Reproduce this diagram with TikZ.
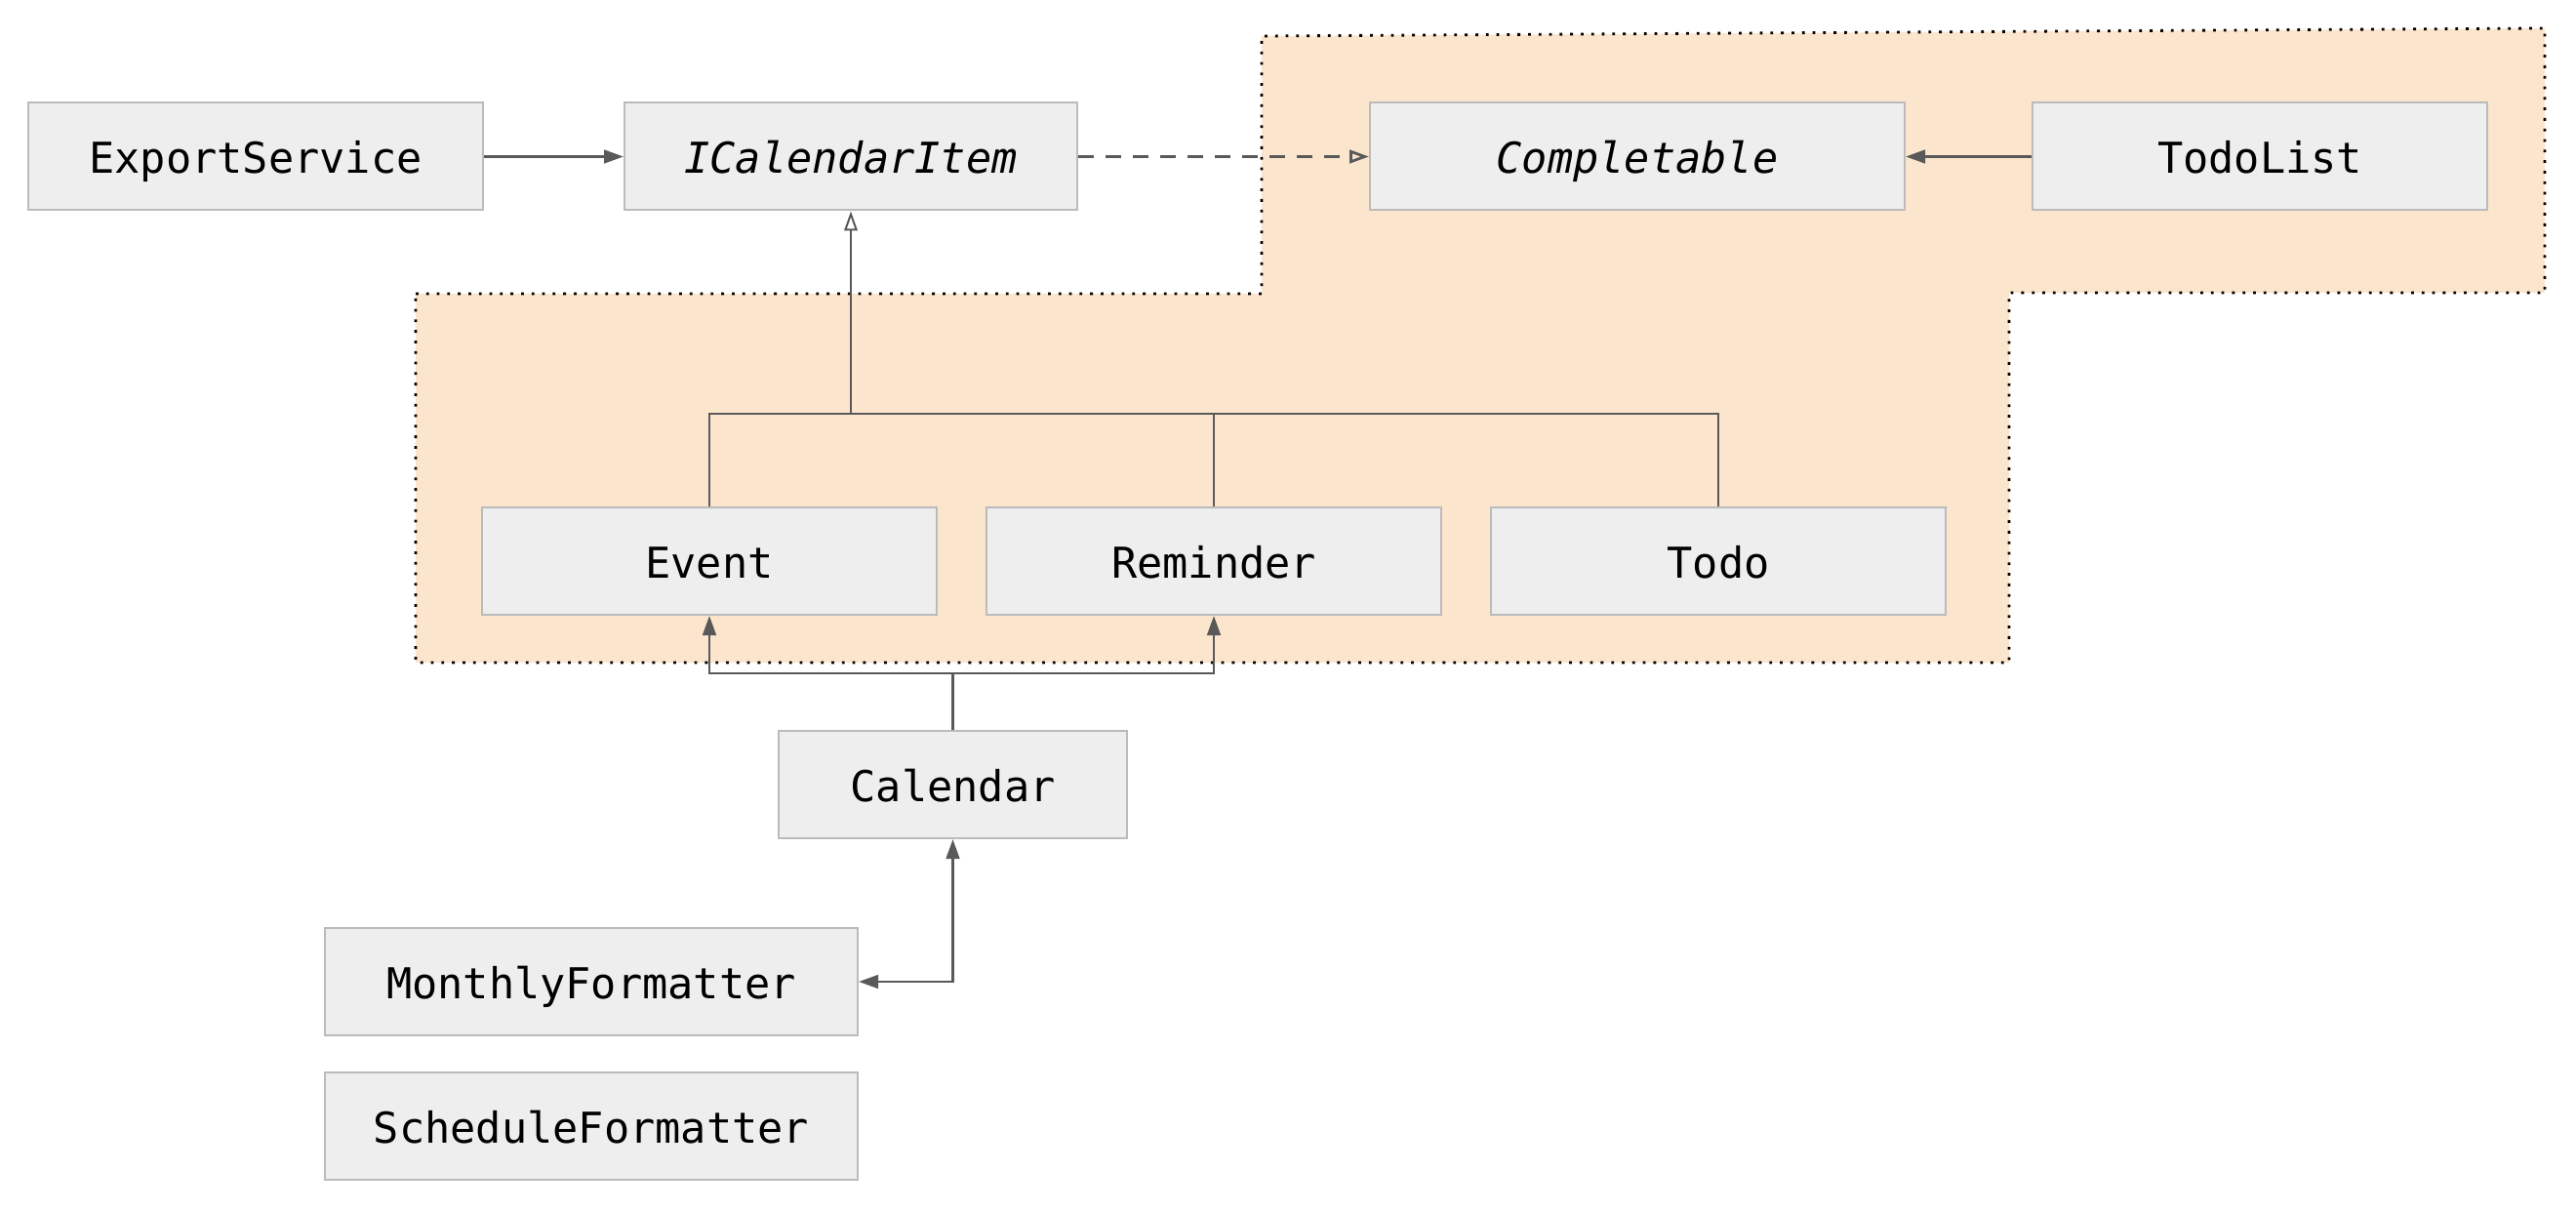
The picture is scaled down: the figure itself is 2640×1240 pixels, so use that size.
\documentclass[tikz,border=0pt]{standalone}
\usepackage{fontspec}
\setmonofont{DejaVu Sans Mono}
\usetikzlibrary{arrows.meta,positioning}
\definecolor{boxfill}{HTML}{EEEEEE}
\definecolor{boxline}{HTML}{BBBBBB}
\definecolor{wire}{HTML}{595959}
\definecolor{zone}{HTML}{FCE5CD}
\begin{document}
\begin{tikzpicture}[x=0.25pt,y=-0.25pt,
  cls/.style={draw=boxline,line width=0.5pt,fill=boxfill,minimum height=27.5pt,inner sep=0pt,
    text height=9pt,text depth=0.4pt,font=\ttfamily\fontsize{10.9}{12}\selectfont},
  iface/.style={cls,font=\ttfamily\itshape\fontsize{10.9}{12}\selectfont},
  line/.style={draw=wire,line width=0.5pt},
  assoc/.style={line,line width=0.7pt,-{Triangle[length=5pt,width=3.4pt]}},
  inherit/.style={line,-{Triangle[open,length=5pt,width=3.4pt]}},
  realize/.style={line,line width=0.7pt,dash pattern=on 4pt off 3pt,-{Triangle[open,length=5pt,width=3.4pt]}}]
\useasboundingbox (0,0) rectangle (2640,1240);

% shaded group with dotted outline
\draw[fill=zone,line width=0.7pt,dash pattern=on 0.7pt off 2pt]
  (426,301) -- (1293,301) -- (1293,37) -- (2608,29) -- (2608,300) -- (2059,300) -- (2059,679) -- (426,679) -- cycle;

% top row
\node[cls,minimum width=116.5pt] (export) at (262,160.5) {ExportService};
\node[iface,minimum width=116pt] (icalitem) at (872,160.5) {ICalendarItem};
\node[iface,minimum width=137pt] (completable) at (1678,160.5) {Completable};
\node[cls,minimum width=116.5pt] (todolist) at (2316,160.5) {TodoList};

% items
\foreach \name/\txt [count=\n] in {event/Event,reminder/Reminder,todo/Todo}
  \node[cls,minimum width=116.5pt] (\name) at (210+\n*517,575) {\txt};

\node[cls,minimum width=89.25pt] (calendar) at (976.5,804) {Calendar};
\node[cls,minimum width=136.5pt] (monthly) at (606,1006) {MonthlyFormatter};
\node[cls,minimum width=136.5pt] (schedule) at (606,1154) {ScheduleFormatter};

\coordinate (hub) at (872,424);
\coordinate (split) at (976.5,690);

\draw[assoc] (export) -- (icalitem);
\draw[realize] (icalitem) -- (completable);
\draw[assoc] (todolist) -- (completable);

\draw[line] (event.north) |- (hub);
\draw[line] (todo.north) |- (hub);
\draw[line] (reminder.north) -- (reminder.north |- hub);
\draw[inherit] (hub) -- (icalitem.south);

\draw[line,line width=0.7pt] (calendar.north) -- (split);
\draw[assoc] (split) -| (event.south);
\draw[assoc] (split) -| (reminder.south);
\draw[assoc,{Triangle[length=5pt,width=3.4pt]}-{Triangle[length=5pt,width=3.4pt]}] (monthly.east) -| (calendar.south);
\end{tikzpicture}
\end{document}
